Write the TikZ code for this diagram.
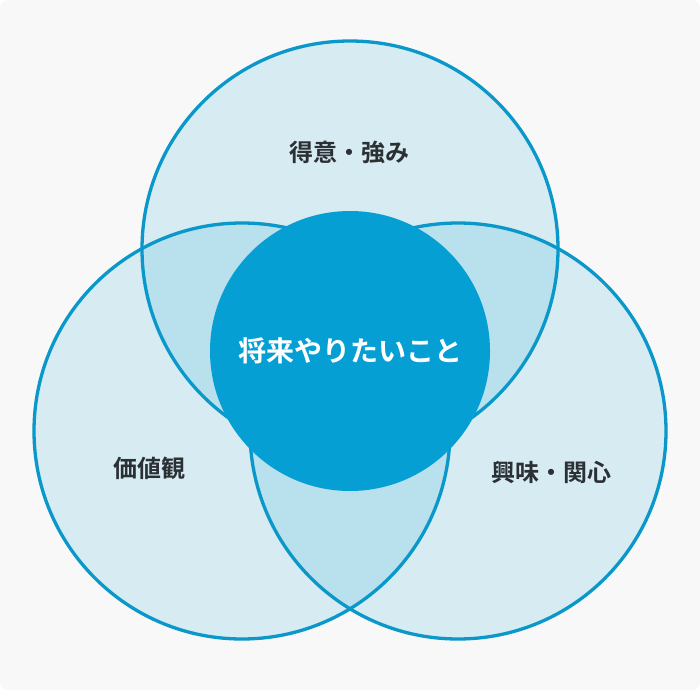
\documentclass[tikz,border=0pt]{standalone}
\usepackage{fontspec}
\newfontfamily\cjk{Noto Sans CJK JP}[BoldFont={Noto Sans CJK JP Bold}]
\definecolor{bgc}{HTML}{F8F8F8}
\definecolor{ringc}{HTML}{0A97C9}
\definecolor{fillc}{HTML}{0AA0D2}
\definecolor{corec}{HTML}{069FD3}
\definecolor{txtc}{HTML}{2B3035}
\tikzset{
  venn/.style={circle, minimum size=416pt, inner sep=0pt, draw=ringc, line width=3.3pt, fill=fillc, fill opacity=0.14, draw opacity=1},
  core/.style={circle, minimum size=280pt, inner sep=0pt, fill=corec, text=white, font=\cjk\bfseries\fontsize{28pt}{31pt}\selectfont, text opacity=1},
  lbl/.style={text=txtc, font=\cjk\bfseries\fontsize{24pt}{27pt}\selectfont, inner sep=0pt}
}
\begin{document}
\begin{tikzpicture}[x=1pt,y=-1pt]
\fill[white] (0,0) rectangle (700,690);
\fill[bgc, rounded corners=8pt] (0,0) rectangle (700,690);
\useasboundingbox (0,0) rectangle (700,690);
\node[venn] (top) at (350,249) {};
\node[venn] (left) at (242,431) {};
\node[venn] (right) at (458,431) {};
\node[core] (center) at (350,351) {将来やりたいこと};
\node[lbl] (ltop) at (349,152) {得意・強み};
\node[lbl] (lleft) at (149,468) {価値観};
\node[lbl] (lright) at (551,472) {興味・関心};
\end{tikzpicture}
\end{document}
